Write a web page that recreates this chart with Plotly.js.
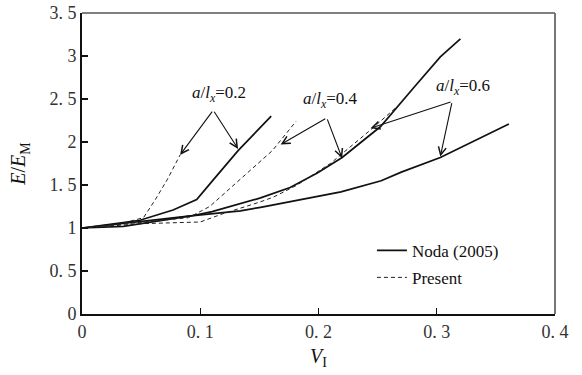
<!DOCTYPE html>
<html>
<head>
<meta charset="utf-8">
<script src="https://cdn.plot.ly/plotly-3.0.1.min.js"></script>
<style>html,body{margin:0;padding:0;background:#fff;}#chart{width:582px;height:375px;}</style>
</head>
<body>
<div id="chart"></div>
<script>
// ---- data ----
const nodaX02 = [0, 0.049, 0.077, 0.097, 0.111, 0.132, 0.16];
const nodaY02 = [1, 1.09, 1.21, 1.33, 1.56, 1.9, 2.3];
const nodaX04 = [0, 0.05, 0.092, 0.11, 0.134, 0.151, 0.176, 0.199, 0.22, 0.2525, 0.281, 0.303, 0.32];
const nodaY04 = [1, 1.08, 1.14, 1.19, 1.28, 1.35, 1.47, 1.64, 1.82, 2.18, 2.64, 2.99, 3.2];
const nodaX06 = [0, 0.035, 0.092, 0.134, 0.151, 0.185, 0.219, 0.253, 0.27, 0.303, 0.33, 0.361];
const nodaY06 = [1, 1.02, 1.14, 1.2, 1.24, 1.33, 1.42, 1.55, 1.65, 1.82, 2.0, 2.21];
const presX02 = [0, 0.03, 0.052, 0.062, 0.072, 0.083];
const presY02 = [1, 1.04, 1.12, 1.33, 1.56, 1.85];
const presX04 = [0, 0.05, 0.09, 0.097, 0.108, 0.13, 0.161, 0.181];
const presY04 = [1, 1.07, 1.12, 1.17, 1.25, 1.52, 1.9, 2.24];
const presX06 = [0, 0.05, 0.1, 0.12, 0.15, 0.162, 0.182, 0.21, 0.244, 0.268];
const presY06 = [1, 1.05, 1.07, 1.17, 1.3, 1.36, 1.5, 1.75, 2.14, 2.43];

const xTickVals = [0, 0.1, 0.2, 0.3, 0.4];
const xTickText = ['0', '0. 1', '0. 2', '0. 3', '0. 4'];
const yTickVals = [0, 0.5, 1, 1.5, 2, 2.5, 3, 3.5];
const yTickText = ['0', '0. 5', '1', '1. 5', '2', '2. 5', '3', '3. 5'];

const labelTexts = ['0.2', '0.4', '0.6'];
const labelX = [0.116, 0.21, 0.322];
const labelY = [2.56, 2.49, 2.64];
const apexX = [0.111, 0.207, 0.313];
const apexY = [2.37, 2.28, 2.47];
const tipLeftX = [0.083, 0.168, 0.244];
const tipLeftY = [1.85, 1.97, 2.16];
const tipRightX = [0.132, 0.22, 0.303];
const tipRightY = [1.92, 1.81, 1.83];

const legendNames = ['Noda (2005)', 'Present'];

// ---- styles ----
const SERIF = '"Liberation Serif", "DejaVu Serif", "Times New Roman", serif';
const solid = {color: '#111', width: 1.7};
const dashed = {color: '#222', width: 1, dash: '4px,3px'};
const traces = [
  {x: nodaX02, y: nodaY02, mode: 'lines', line: solid, name: legendNames[0], showlegend: true, legendgroup: 'n'},
  {x: nodaX04, y: nodaY04, mode: 'lines', line: solid, showlegend: false, legendgroup: 'n'},
  {x: nodaX06, y: nodaY06, mode: 'lines', line: solid, showlegend: false, legendgroup: 'n'},
  {x: presX02, y: presY02, mode: 'lines', line: dashed, name: legendNames[1], showlegend: true, legendgroup: 'p'},
  {x: presX04, y: presY04, mode: 'lines', line: dashed, showlegend: false, legendgroup: 'p'},
  {x: presX06, y: presY06, mode: 'lines', line: dashed, showlegend: false, legendgroup: 'p'}
];

const annotations = [];
for (let i = 0; i < labelTexts.length; i++) {
  annotations.push({
    x: labelX[i], y: labelY[i], xref: 'x', yref: 'y', showarrow: false,
    text: '<i>a</i>/<i>l</i><sub><i>x</i></sub>=' + labelTexts[i],
    font: {family: SERIF, size: 17, color: '#111'}
  });
  [[tipLeftX[i], tipLeftY[i]], [tipRightX[i], tipRightY[i]]].forEach(function (t) {
    annotations.push({
      x: t[0], y: t[1], ax: apexX[i], ay: apexY[i], xref: 'x', yref: 'y', axref: 'x', ayref: 'y',
      text: '', showarrow: true, arrowhead: 5, arrowsize: 1.4, arrowwidth: 1.1, arrowcolor: '#111'
    });
  });
}

const layout = {
  width: 582, height: 375,
  margin: {l: 82, r: 27, t: 13, b: 61},
  paper_bgcolor: '#fff', plot_bgcolor: '#fff',
  font: {family: SERIF, color: '#111'},
  xaxis: {
    range: [0, 0.4], tickvals: xTickVals, ticktext: xTickText,
    ticks: 'inside', ticklen: 6, tickwidth: 1.2, tickcolor: '#111',
    showline: true, linecolor: '#111', linewidth: 2, showgrid: false, zeroline: false,
    tickfont: {family: SERIF, size: 18, color: '#333'},
    title: {text: '<i>V</i><sub>I</sub>', font: {family: SERIF, size: 20}, standoff: 8}
  },
  yaxis: {
    range: [0, 3.5], tickvals: yTickVals, ticktext: yTickText,
    ticks: 'inside', ticklen: 6, tickwidth: 1.2, tickcolor: '#111',
    showline: true, linecolor: '#111', linewidth: 2, showgrid: false, zeroline: false,
    tickfont: {family: SERIF, size: 18, color: '#333'},
    title: {text: '<i>E</i>/<i>E</i><sub>M</sub>', font: {family: SERIF, size: 20}, standoff: 18}
  },
  shapes: [
    {type: 'line', xref: 'paper', yref: 'paper', x0: 0, x1: 1, y0: 1, y1: 1, line: {color: '#555', width: 1.5}},
    {type: 'line', xref: 'paper', yref: 'paper', x0: 1, x1: 1, y0: 0, y1: 1, line: {color: '#777', width: 2}}
  ],
  legend: {
    x: 0.613, y: 0.27, xanchor: 'left', yanchor: 'top',
    bgcolor: 'rgba(0,0,0,0)', borderwidth: 0,
    font: {family: SERIF, size: 17, color: '#111'},
    tracegroupgap: 2
  },
  annotations: annotations
};

Plotly.newPlot('chart', traces, layout, {displayModeBar: false, staticPlot: true});
</script>
</body>
</html>
